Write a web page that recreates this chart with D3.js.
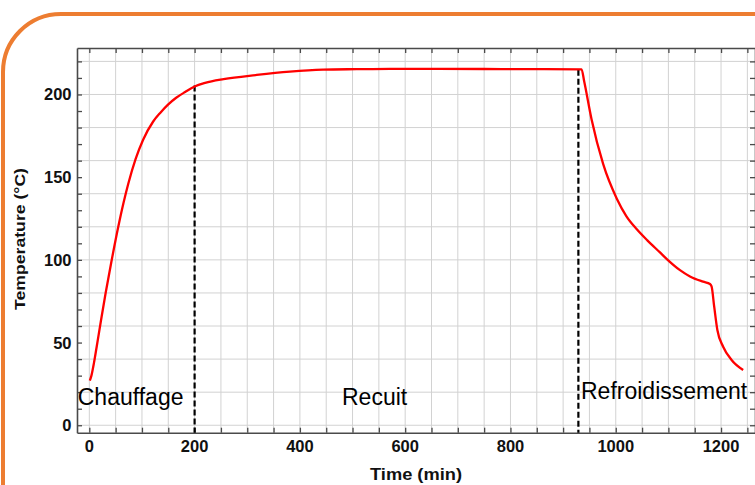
<!DOCTYPE html>
<html>
<head>
<meta charset="utf-8">
<script src="https://cdn.jsdelivr.net/npm/d3@7"></script>
<style>
  html, body { margin: 0; padding: 0; background: #ffffff; }
  svg { display: block; }
  text { font-family: "Liberation Sans", Arial, Helvetica, sans-serif; }
</style>
</head>
<body>
<svg id="chart" width="755" height="485"></svg>
<script>
// ---- data ----
const timeMin = [1, 4, 9, 14, 22, 31, 42, 55, 65, 74, 88, 102, 121, 135, 150, 165, 182, 200, 220, 255, 318, 381, 444, 508, 571, 650, 750, 850, 935,
  940, 954, 976, 1002, 1020, 1040, 1060, 1084, 1097, 1122, 1141, 1166, 1179, 1182, 1187, 1193, 1204, 1220, 1242];
const temperature = [27, 30, 38, 47.5, 63, 80, 99, 120, 134.5, 146, 161, 172.5, 183.5, 189, 194, 198, 201.5, 204.8, 207, 209.3, 211.8, 213.8, 215.0, 215.3, 215.5, 215.5, 215.4, 215.3, 215.2,
  208, 185, 158, 137, 126.5, 118.5, 111.8, 104.5, 100.5, 93.8, 90, 86.8, 85.4, 84, 71.7, 57.6, 47.5, 39.5, 33.4];
const phaseBoundaries = [{ t: 200, T: 205.4 }, { t: 929, T: 215 }];
const phaseLabels = [
  { text: "Chauffage", t: -22, T: 12.5 },
  { text: "Recuit", t: 480, T: 12.5 },
  { text: "Refroidissement", t: 934, T: 16 }
];
const xLabelTicks = [0, 200, 400, 600, 800, 1000, 1200];
const yLabelTicks = [0, 50, 100, 150, 200];
const xGridTicks = d3.range(0, 1251, 50);
const yGridTicks = d3.range(0, 221, 20);
const yMinorTicks = d3.range(0, 221, 10);
const xTitle = "Time (min)";
const yTitle = "Temperature (°C)";

// ---- layout ----
const svg = d3.select("#chart");
const pLeft = 77, pRight = 755, pTop = 48, pBottom = 432.7;

const x = d3.scaleLinear().domain([-23.4, 1264.5]).range([pLeft, pRight]);
const y = d3.scaleLinear().domain([-4.5, 228.1]).range([pBottom, pTop]);

// orange rounded frame
svg.append("rect")
  .attr("x", 3).attr("y", 14).attr("width", 900).attr("height", 600)
  .attr("rx", 58).attr("ry", 58)
  .attr("fill", "none").attr("stroke", "#ED7D31").attr("stroke-width", 4);

// grid
const grid = svg.append("g").attr("stroke", "#d2d2d2").attr("stroke-width", 1);
grid.selectAll("line.v").data(xGridTicks).join("line").attr("class", "v")
  .attr("x1", d => x(d)).attr("x2", d => x(d)).attr("y1", pTop).attr("y2", pBottom);
grid.selectAll("line.h").data(yGridTicks).join("line").attr("class", "h")
  .attr("x1", pLeft).attr("x2", pRight).attr("y1", d => y(d)).attr("y2", d => y(d));

// axes ticks (inside)
const axisColor = "#4a4a4a";
function styleAxis(g) {
  g.select(".domain").attr("stroke", axisColor).attr("stroke-width", 1.6);
  g.selectAll(".tick line").attr("stroke", axisColor).attr("stroke-width", 1.3);
  g.selectAll(".tick text").remove();
}
svg.append("g").attr("transform", `translate(0,${pBottom})`)
  .call(d3.axisBottom(x).tickValues(xGridTicks).tickSize(-5).tickSizeOuter(0).tickFormat(""))
  .call(styleAxis);
svg.append("g").attr("transform", `translate(0,${pTop})`)
  .call(d3.axisTop(x).tickValues(xGridTicks).tickSize(-5).tickSizeOuter(0).tickFormat(""))
  .call(styleAxis);
svg.append("g").attr("transform", `translate(${pLeft},0)`)
  .call(d3.axisLeft(y).tickValues(yMinorTicks).tickSize(-5).tickSizeOuter(0).tickFormat(""))
  .call(styleAxis);
svg.append("g").attr("transform", `translate(${pRight},0)`)
  .call(d3.axisRight(y).tickValues(yMinorTicks).tickSize(-5).tickSizeOuter(0).tickFormat(""))
  .call(styleAxis);

// tick labels
svg.append("g").selectAll("text").data(xLabelTicks).join("text")
  .attr("x", d => x(d)).attr("y", 451.5)
  .attr("text-anchor", "middle")
  .attr("font-size", 16.5).attr("font-weight", "bold").attr("fill", "#111")
  .text(d => d);
svg.append("g").selectAll("text").data(yLabelTicks).join("text")
  .attr("x", 71.5).attr("y", d => y(d)).attr("dy", "0.36em")
  .attr("text-anchor", "end")
  .attr("font-size", 16.5).attr("font-weight", "bold").attr("fill", "#111")
  .text(d => d);

// axis titles
svg.append("text")
  .attr("x", 416).attr("y", 480)
  .attr("text-anchor", "middle")
  .attr("font-size", 16).attr("font-weight", "bold").attr("fill", "#111")
  .attr("textLength", 92).attr("lengthAdjust", "spacingAndGlyphs")
  .text(xTitle);
svg.append("text")
  .attr("transform", "translate(25,239) rotate(-90)")
  .attr("text-anchor", "middle")
  .attr("font-size", 15.5).attr("font-weight", "bold").attr("fill", "#111")
  .attr("textLength", 142).attr("lengthAdjust", "spacingAndGlyphs")
  .text(yTitle);

// dashed phase boundaries
svg.append("g").selectAll("line").data(phaseBoundaries).join("line")
  .attr("x1", d => x(d.t)).attr("x2", d => x(d.t))
  .attr("y1", d => y(d.T)).attr("y2", pBottom)
  .attr("stroke", "#000").attr("stroke-width", 2.2)
  .attr("stroke-dasharray", "6,3");

// temperature curve
const pts = timeMin.map((t, i) => [t, temperature[i]]);
const line = d3.line().x(d => x(d[0])).y(d => y(d[1])).curve(d3.curveMonotoneX);
svg.append("path").datum(pts)
  .attr("d", line)
  .attr("fill", "none").attr("stroke", "#ff0000").attr("stroke-width", 2.3)
  .attr("stroke-linejoin", "round");

// phase labels
svg.append("g").selectAll("text").data(phaseLabels).join("text")
  .attr("x", d => x(d.t)).attr("y", d => y(d.T))
  .attr("font-size", 23).attr("fill", "#000")
  .text(d => d.text);
</script>
</body>
</html>
